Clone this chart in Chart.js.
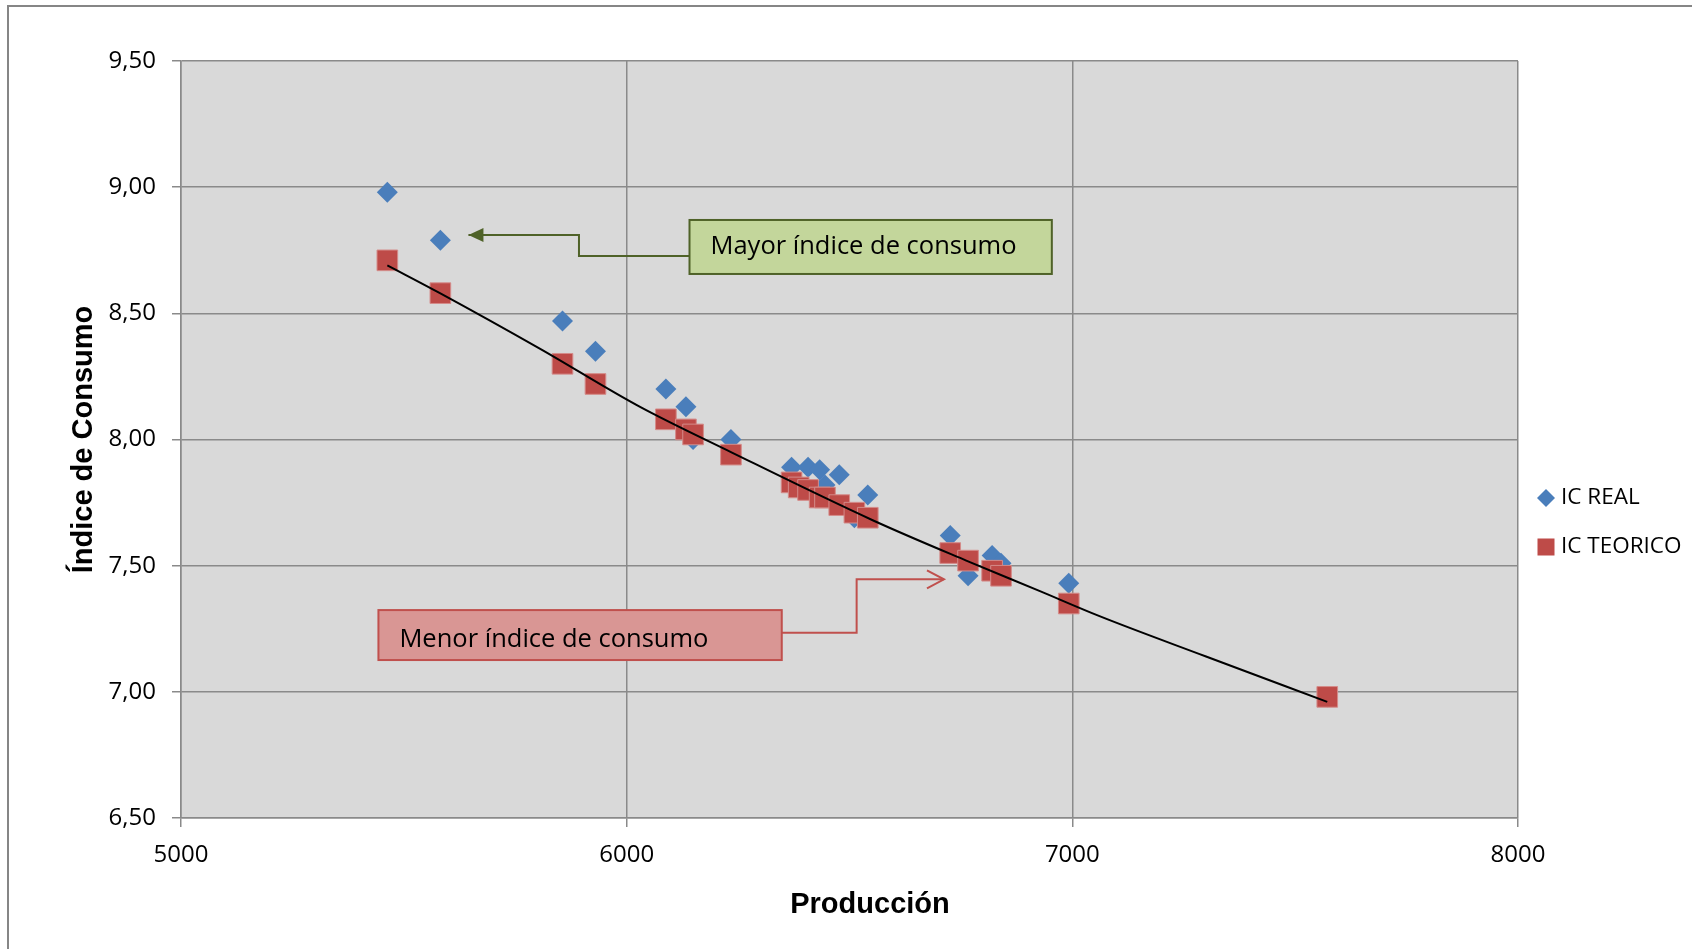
<!DOCTYPE html>
<html>
<head>
<meta charset="utf-8">
<script src="https://cdn.jsdelivr.net/npm/chart.js@4/dist/chart.umd.min.js"></script>
<style>
  html, body { margin: 0; padding: 0; background: #fff; }
  #wrap { width: 1692px; height: 949px; position: relative; }
</style>
</head>
<body>
<div id="wrap"><canvas id="chart"></canvas></div>
<script>
// Producción (x) and índice de consumo
const produccion = [5463, 5582, 5856, 5930, 6088, 6133, 6149, 6234, 6370, 6386, 6407, 6433, 6445, 6477, 6511, 6541, 6726, 6766, 6820, 6840, 6992, 7572];
const icReal     = [8.98, 8.79, 8.47, 8.35, 8.20, 8.13, 8.00, 8.00, 7.89, 7.82, 7.89, 7.88, 7.82, 7.86, 7.69, 7.78, 7.62, 7.46, 7.54, 7.51, 7.43, 6.98];
const icTeorico  = [8.71, 8.58, 8.30, 8.22, 8.08, 8.04, 8.02, 7.94, 7.83, 7.81, 7.80, 7.77, 7.77, 7.74, 7.71, 7.69, 7.55, 7.52, 7.48, 7.46, 7.35, 6.98];

// trend line, points
const trendX = [5463, 5581, 5805, 6029, 6234, 6552, 6762, 6926, 7061, 7300, 7572];
const trendY = [8.69, 8.58, 8.36, 8.13, 7.95, 7.68, 7.52, 7.40, 7.30, 7.14, 6.96];

const seriesLabels = ['IC REAL', 'IC TEORICO'];
const xTicks = [5000, 6000, 7000, 8000];
const yTicks = [6.5, 7.0, 7.5, 8.0, 8.5, 9.0, 9.5];

const BLUE = '#4a7ebb';
const RED = '#be4b48';
const TEXT_FONT = '"Open Sans", sans-serif';
const TITLE_FONT = '"Liberation Sans", Arial, sans-serif';

function toPoints(xs, ys) {
  return xs.map((x, i) => ({ x: x, y: ys[i] }));
}

// annotation callouts, in data units
const callouts = [
  {
    text: 'Mayor índice de consumo',
    box: [6141, 8.870, 6954, 8.656],
    fill: '#c3d69b', stroke: '#4f6228',
    path: [[6141, 8.727], [5893, 8.727], [5893, 8.810], [5645, 8.810]],
    head: 'filled',
    textDy: 7
  },
  {
    text: 'Menor índice de consumo',
    box: [5443, 7.324, 6348, 7.126],
    fill: '#d99694', stroke: '#c0504d',
    path: [[6320, 7.234], [6516, 7.234], [6516, 7.446], [6712, 7.446]],
    head: 'open',
    textDy: 12
  }
];

const framePlugin = {
  id: 'frame',
  beforeDraw(chart) {
    const ctx = chart.ctx;
    const a = chart.chartArea;
    ctx.save();
    ctx.fillStyle = '#ffffff';
    ctx.fillRect(0, 0, chart.width, chart.height);
    ctx.strokeStyle = '#868686';
    ctx.lineWidth = 2;
    ctx.strokeRect(8, 6, chart.width + 100, chart.height + 100);
    ctx.fillStyle = '#d9d9d9';
    ctx.fillRect(a.left, a.top, a.right - a.left, a.bottom - a.top);
    ctx.restore();
  },
  afterDraw(chart) {
    // x axis title, Excel puts it a little right of the plot centre
    const ctx = chart.ctx;
    ctx.save();
    ctx.fillStyle = '#000';
    ctx.font = 'bold 29px ' + TITLE_FONT;
    ctx.textAlign = 'center';
    ctx.textBaseline = 'alphabetic';
    ctx.fillText('Producción', 870, 913);
    ctx.restore();
  }
};

const calloutPlugin = {
  id: 'callouts',
  afterDraw(chart) {
    const ctx = chart.ctx;
    const xs = chart.scales.x;
    const ys = chart.scales.y;
    ctx.save();
    callouts.forEach(c => {
      const pts = c.path.map(p => [xs.getPixelForValue(p[0]), ys.getPixelForValue(p[1])]);
      ctx.strokeStyle = c.stroke;
      ctx.lineWidth = 2;
      ctx.beginPath();
      pts.forEach((p, i) => i ? ctx.lineTo(p[0], p[1]) : ctx.moveTo(p[0], p[1]));
      ctx.stroke();
      // arrow head
      const tip = pts[pts.length - 1];
      const prev = pts[pts.length - 2];
      const dir = Math.sign(tip[0] - prev[0]);
      if (c.head === 'filled') {
        ctx.fillStyle = c.stroke;
        ctx.beginPath();
        ctx.moveTo(tip[0], tip[1]);
        ctx.lineTo(tip[0] - dir * 15, tip[1] - 7);
        ctx.lineTo(tip[0] - dir * 15, tip[1] + 7);
        ctx.closePath();
        ctx.fill();
      } else {
        ctx.beginPath();
        ctx.moveTo(tip[0] - dir * 17, tip[1] - 9);
        ctx.lineTo(tip[0], tip[1]);
        ctx.lineTo(tip[0] - dir * 17, tip[1] + 9);
        ctx.stroke();
      }
      // box
      const x1 = xs.getPixelForValue(c.box[0]);
      const y1 = ys.getPixelForValue(c.box[1]);
      const x2 = xs.getPixelForValue(c.box[2]);
      const y2 = ys.getPixelForValue(c.box[3]);
      ctx.fillStyle = c.fill;
      ctx.fillRect(x1, y1, x2 - x1, y2 - y1);
      ctx.lineWidth = 2;
      ctx.strokeStyle = c.stroke;
      ctx.strokeRect(x1, y1, x2 - x1, y2 - y1);
      ctx.fillStyle = '#000';
      ctx.font = '25.5px ' + TEXT_FONT;
      ctx.textBaseline = 'alphabetic';
      ctx.textAlign = 'left';
      ctx.fillText(c.text, x1 + 21, (y1 + y2) / 2 + c.textDy);
    });
    ctx.restore();
  }
};

const legendPlugin = {
  id: 'sideLegend',
  afterDraw(chart) {
    const ctx = chart.ctx;
    const a = chart.chartArea;
    const cx = a.right + 28;
    const rows = [a.top + 437, a.top + 486];
    ctx.save();
    ctx.font = '22.5px ' + TEXT_FONT;
    ctx.textBaseline = 'middle';
    ctx.fillStyle = BLUE;
    ctx.beginPath();
    ctx.moveTo(cx - 9, rows[0]);
    ctx.lineTo(cx, rows[0] - 9);
    ctx.lineTo(cx + 9, rows[0]);
    ctx.lineTo(cx, rows[0] + 9);
    ctx.closePath();
    ctx.fill();
    ctx.fillStyle = RED;
    ctx.fillRect(cx - 8.5, rows[1] - 8.5, 17, 17);
    ctx.fillStyle = '#000';
    ctx.fillText(chart.data.datasets[1].label, cx + 15, rows[0]);
    ctx.fillText(chart.data.datasets[2].label, cx + 15, rows[1]);
    ctx.restore();
  }
};

new Chart(document.getElementById('chart'), {
  type: 'scatter',
  data: {
    datasets: [
      {
        label: 'Tendencia',
        data: toPoints(trendX, trendY),
        showLine: true,
        borderColor: '#000',
        borderWidth: 2,
        pointRadius: 0,
        cubicInterpolationMode: 'monotone',
        order: 0
      },
      {
        label: seriesLabels[0],
        data: toPoints(produccion, icReal),
        pointStyle: 'rectRot',
        pointRadius: 10.5,
        backgroundColor: BLUE,
        borderColor: BLUE,
        borderWidth: 0,
        order: 2
      },
      {
        label: seriesLabels[1],
        data: toPoints(produccion, icTeorico),
        pointStyle: 'rect',
        pointRadius: 14.6,
        backgroundColor: RED,
        borderColor: '#d48b89',
        borderWidth: 1,
        order: 1
      }
    ]
  },
  options: {
    responsive: true,
    maintainAspectRatio: false,
    animation: false,
    layout: { padding: { top: 61, right: 174, left: 0, bottom: 0 } },
    plugins: {
      legend: { display: false },
      tooltip: { enabled: false }
    },
    scales: {
      x: {
        type: 'linear',
        min: 5000,
        max: 8000,
        afterFit: function(scale) { scale.height = 131; },
        afterBuildTicks: function(scale) { scale.ticks = xTicks.map(v => ({ value: v })); },
        grid: { color: '#8a8a8a', lineWidth: 1.5, tickLength: 9 },
        border: { color: '#8a8a8a', width: 1.5 },
        ticks: {
          color: '#000',
          font: { family: TEXT_FONT, size: 24 },
          padding: 14,
          maxRotation: 0,
          autoSkip: false,
          callback: function(value) { return String(value); }
        }
      },
      y: {
        type: 'linear',
        min: 6.5,
        max: 9.5,
        afterFit: function(scale) { scale.width = 181; },
        afterBuildTicks: function(scale) { scale.ticks = yTicks.map(v => ({ value: v })); },
        grid: { color: '#8a8a8a', lineWidth: 1.5, tickLength: 9 },
        border: { color: '#8a8a8a', width: 1.5 },
        ticks: {
          color: '#000',
          font: { family: TEXT_FONT, size: 24 },
          padding: 16,
          callback: function(value) { return value.toFixed(2).replace('.', ','); }
        },
        title: {
          display: true,
          text: 'Índice de Consumo',
          color: '#000',
          font: { family: TITLE_FONT, size: 29, weight: 'bold' },
          padding: { top: 67, bottom: 0 }
        }
      }
    }
  },
  plugins: [framePlugin, calloutPlugin, legendPlugin]
});
</script>
</body>
</html>
